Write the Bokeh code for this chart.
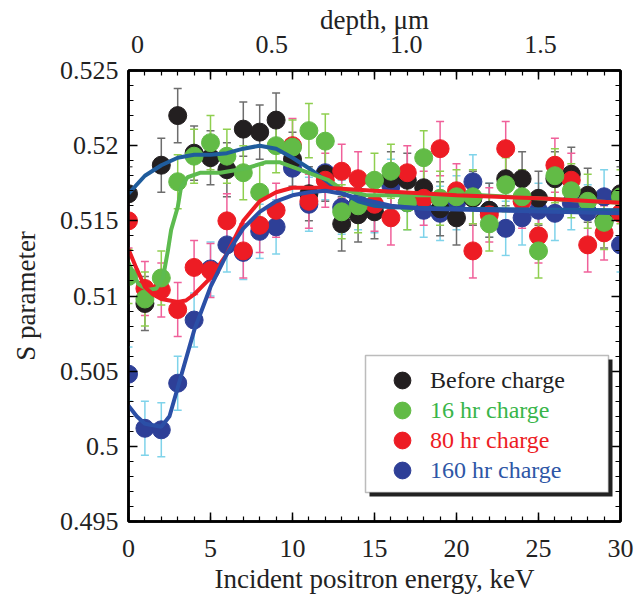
from bokeh.plotting import figure
from bokeh.models import (ColumnDataSource, Whisker, TeeHead, Range1d, LinearAxis,
                          SingleIntervalTicker, FixedTicker, CustomJSTickFormatter,
                          CustomLabelingPolicy, Legend, LegendItem, BoxAnnotation)
from bokeh.embed import file_html
from bokeh.resources import INLINE

# ---------------- data ----------------
energy = list(range(31))  # keV

s_before = [0.5168, 0.5095, 0.5187, 0.5220, 0.5195, 0.5192, 0.5184, 0.5211, 0.5209, 0.5217,
            0.5191, 0.5168, 0.5181, 0.5148, 0.5154, 0.5156, 0.5178, 0.5177, 0.5172, 0.5158,
            0.5152, 0.5165, 0.5157, 0.5178, 0.5178, 0.5165, 0.5178, 0.5181, 0.5167, 0.5150, 0.5168]
s_16hr = [0.5113, 0.5098, 0.5112, 0.5176, 0.5193, 0.5202, 0.5193, 0.5182, 0.5169, 0.5200,
          0.5199, 0.5210, 0.5203, 0.5156, 0.5160, 0.5177, 0.5183, 0.5162, 0.5192, 0.5165,
          0.5166, 0.5166, 0.5148, 0.5174, 0.5166, 0.5130, 0.5180, 0.5170, 0.5163, 0.5149, 0.5166]
s_80hr = [0.5150, 0.5105, 0.5104, 0.5091, 0.5119, 0.5117, 0.5150, 0.5130, 0.5147, 0.5157,
          0.5200, 0.5163, 0.5177, 0.5183, 0.5178, 0.5161, 0.5152, 0.5182, 0.5165, 0.5198,
          0.5170, 0.5130, 0.5154, 0.5198, 0.5163, 0.5140, 0.5187, 0.5177, 0.5134, 0.5142, 0.5155]
s_160hr = [0.5048, 0.5012, 0.5011, 0.5042, 0.5084, 0.5118, 0.5134, 0.5129, 0.5143, 0.5146,
           0.5185, 0.5161, 0.5182, 0.5159, 0.5162, 0.5160, 0.5173, 0.5162, 0.5157, 0.5155,
           0.5162, 0.5176, 0.5157, 0.5145, 0.5152, 0.5157, 0.5155, 0.5162, 0.5156, 0.5166, 0.5134]

err_before = 0.0018
err_16hr = 0.0018
err_80hr = 0.0018
err_160hr = 0.0018

# fitted curves
fit_before_e = [0, 1, 2, 3, 4, 5, 6, 7, 8, 9, 10, 11, 12, 13, 14, 15, 16, 20, 30]
fit_before_s = [0.5168, 0.5180, 0.5187, 0.5192, 0.5194, 0.5194, 0.5195, 0.5198, 0.5200, 0.5198,
                0.5192, 0.5185, 0.5177, 0.5169, 0.5163, 0.5160, 0.5159, 0.5158, 0.5157]
fit_16hr_e = [0, 0.6, 1.2, 1.7, 2.1, 2.4, 2.6, 3.0, 3.2, 3.6, 4.4, 5.6, 7.2, 8.4, 9.2,
              10.2, 11.7, 12.2, 13, 14.5, 16, 21.5, 30]
fit_16hr_s = [0.5122, 0.5108, 0.5104, 0.5105, 0.5112, 0.5130, 0.5144, 0.5159, 0.5172, 0.5179,
              0.5182, 0.5182, 0.5185, 0.5189, 0.5189, 0.5185, 0.5179, 0.5177, 0.5171, 0.5167,
              0.5167, 0.5167, 0.5162]
fit_80hr_e = [0, 0.5, 1, 1.5, 2, 3, 3.5, 4, 5, 6, 7, 8, 9, 10, 12, 15, 20, 25, 30]
fit_80hr_s = [0.5131, 0.5118, 0.5106, 0.5101, 0.5098, 0.5096, 0.5097, 0.5101, 0.5112, 0.5128,
              0.5150, 0.5163, 0.5169, 0.5172, 0.5172, 0.5170, 0.5167, 0.5165, 0.5162]
fit_160hr_e = [0, 0.5, 1, 2, 2.5, 3, 4, 5, 6, 7, 8, 9, 10, 11, 12, 13, 14, 16, 18, 30]
fit_160hr_s = [0.5027, 0.5020, 0.5015, 0.5013, 0.5020, 0.5039, 0.5077, 0.5106, 0.5128, 0.5145,
               0.5156, 0.5163, 0.5167, 0.5169, 0.5170, 0.5168, 0.5165, 0.5160, 0.5158, 0.5155]

series_labels = ["Before charge", "16 hr charge", "80 hr charge", "160 hr charge"]
y_range = (0.495, 0.525)
x_range = (0, 30)
depth_ticks = [0, 0.5, 1.0, 1.5]
depth_range = (-0.0335, 1.7975)

# ---------------- styles ----------------
FONT = "Liberation Serif"
c_black, c_green, c_red, c_blue = "#231f20", "#62bb46", "#ed1c24", "#2e3f97"
e_black, e_green, e_red, e_blue = "#6d6d6d", "#8fcf4f", "#f0609a", "#7fd3ea"
t_green, t_red, t_blue = "#39b54a", "#ed1c24", "#2e56a6"
f_before, f_green, f_red, f_blue = "#1f5c9c", "#5dbb4f", "#ee1c24", "#2b4fa6"

p = figure(width=638, height=597, x_range=x_range, y_range=y_range,
           output_backend="svg", toolbar_location=None,
           min_border_left=128, min_border_right=18, min_border_top=70, min_border_bottom=76)
p.grid.visible = False
p.outline_line_color = "black"
p.outline_line_width = 2.5
p.background_fill_color = "white"

no_labels = CustomLabelingPolicy(code="for (const i of indices) { indices.unset(i) } return indices")


def style_axis(ax):
    ax.axis_line_color = "black"
    ax.axis_line_width = 2.5
    ax.major_tick_in = 9
    ax.major_tick_out = 0
    ax.minor_tick_in = 5
    ax.minor_tick_out = 0
    ax.major_tick_line_width = 1.5
    ax.minor_tick_line_width = 1.2
    ax.major_label_text_font = FONT
    ax.major_label_text_font_size = "26px"
    ax.major_label_text_color = "#222222"
    ax.axis_label_text_font = FONT
    ax.axis_label_text_font_size = "27px"
    ax.axis_label_text_font_style = "normal"
    ax.axis_label_text_color = "#222222"


xt = SingleIntervalTicker(interval=5, num_minor_ticks=5)
yt = SingleIntervalTicker(interval=0.005, num_minor_ticks=5)

xa = p.xaxis[0]
style_axis(xa)
xa.ticker = xt
xa.axis_label = "Incident positron energy, keV"
xa.major_label_standoff = 18
xa.axis_label_standoff = 4

ya = p.yaxis[0]
style_axis(ya)
ya.ticker = yt
ya.formatter = CustomJSTickFormatter(code="return tick.toFixed(3).replace(/0+$/, '')")
ya.axis_label = "S parameter"
ya.major_label_standoff = 10
ya.axis_label_standoff = 16

ra = LinearAxis(ticker=yt)
style_axis(ra)
ra.major_label_policy = no_labels
ra.major_label_text_font_size = "1px"
ra.major_label_standoff = 0
p.add_layout(ra, "right")

ta = LinearAxis(ticker=xt)
style_axis(ta)
ta.major_label_policy = no_labels
ta.major_label_text_font_size = "1px"
ta.major_label_standoff = 0
p.add_layout(ta, "above")

p.extra_x_ranges = {"depth": Range1d(*depth_range)}
da = LinearAxis(x_range_name="depth", ticker=FixedTicker(ticks=depth_ticks))
style_axis(da)
da.axis_line_color = None
da.major_tick_in = 0
da.minor_tick_in = 0
da.formatter = CustomJSTickFormatter(code="return tick == 0 ? '0' : tick.toFixed(1)")
da.axis_label = "depth, \u03bcm"
da.major_label_standoff = 14
da.axis_label_standoff = -2
p.add_layout(da, "above")

# ---------------- data marks ----------------
series = [
    (s_160hr, err_160hr, c_blue, e_blue),
    (s_before, err_before, c_black, e_black),
    (s_80hr, err_80hr, c_red, e_red),
    (s_16hr, err_16hr, c_green, e_green),
]
renderers = {}
for vals, err, col, ecol in series:
    src = ColumnDataSource(dict(e=energy, s=vals,
                                up=[v + err for v in vals], lo=[v - err for v in vals]))
    w = Whisker(base="e", upper="up", lower="lo", source=src, line_color=ecol, line_width=1.5,
                upper_head=TeeHead(size=8, line_color=ecol, line_width=1.5),
                lower_head=TeeHead(size=8, line_color=ecol, line_width=1.5))
    p.add_layout(w)
    r = p.scatter("e", "s", source=src, size=18, fill_color=col, line_color=col)
    renderers[col] = r

p.line(fit_before_e, fit_before_s, line_color=f_before, line_width=4)
p.line(fit_16hr_e, fit_16hr_s, line_color=f_green, line_width=4)
p.line(fit_80hr_e, fit_80hr_s, line_color=f_red, line_width=4)
p.line(fit_160hr_e, fit_160hr_s, line_color=f_blue, line_width=4)

# ---------------- legend ----------------
shadow = BoxAnnotation(left=369, right=612, top=359, bottom=496,
                       left_units="canvas", right_units="canvas", top_units="canvas",
                       bottom_units="canvas", fill_color="#222222", fill_alpha=1,
                       line_color=None)
box = BoxAnnotation(left=365, right=608, top=355, bottom=492,
                    left_units="canvas", right_units="canvas", top_units="canvas",
                    bottom_units="canvas", fill_color="white", fill_alpha=1,
                    line_color="#222222", line_width=1.5)
p.add_layout(shadow)
p.add_layout(box)

leg_specs = [
    (series_labels[0], renderers[c_black], "#222222", 120),
    (series_labels[1], renderers[c_green], t_green, 90),
    (series_labels[2], renderers[c_red], t_red, 60),
    (series_labels[3], renderers[c_blue], t_blue, 30),
]
for lab, rend, tcol, vy in leg_specs:
    lg = Legend(items=[LegendItem(label=lab, renderers=[rend])], location=(253, vy),
                border_line_color=None, background_fill_alpha=0, padding=0, margin=0,
                glyph_width=42, glyph_height=42, label_standoff=7,
                label_text_font=FONT, label_text_font_size="24px", label_text_color=tcol)
    p.add_layout(lg, "center")

open("out.html", "w").write(file_html(p, INLINE))
